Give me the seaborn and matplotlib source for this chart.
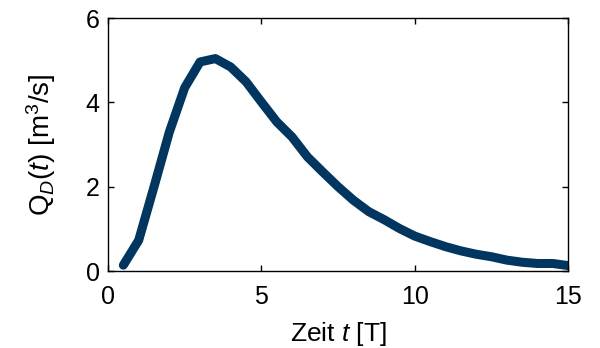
import matplotlib
matplotlib.use("Agg")
import matplotlib.pyplot as plt
import seaborn as sns
import pandas as pd

# Abfluss-Ganglinie Q_D(t)
t_vals = [0.5, 1.0, 1.5, 2.0, 2.5, 3.0, 3.5, 4.0, 4.5, 5.0,
          5.5, 6.0, 6.5, 7.0, 7.5, 8.0, 8.5, 9.0, 9.5, 10.0,
          10.5, 11.0, 11.5, 12.0, 12.5, 13.0, 13.5, 14.0, 14.5, 15.0]
q_vals = [0.14, 0.73, 2.0, 3.3, 4.35, 4.96, 5.04, 4.84, 4.49, 4.01,
          3.54, 3.18, 2.71, 2.35, 2.0, 1.68, 1.41, 1.22, 1.01, 0.83,
          0.70, 0.58, 0.48, 0.40, 0.34, 0.26, 0.21, 0.18, 0.18, 0.13]
x_ticks = [0, 5, 10, 15]
y_ticks = [0, 2, 4, 6]

sns.set_style("ticks")
plt.rcParams["font.family"] = ["Liberation Sans", "DejaVu Sans"]
plt.rcParams["mathtext.fontset"] = "custom"
plt.rcParams["mathtext.rm"] = "Liberation Sans"
plt.rcParams["mathtext.it"] = "Liberation Sans:italic"
plt.rcParams["text.color"] = "black"
plt.rcParams["axes.labelcolor"] = "black"

df = pd.DataFrame({"t": t_vals, "Q": q_vals})

fig = plt.figure(figsize=(6, 3.48), dpi=100)
ax = fig.add_axes([0.18, 0.221, 0.767, 0.727])
sns.lineplot(data=df, x="t", y="Q", ax=ax, color="#003660", linewidth=6.5)

ax.set_xlim(0, 15)
ax.set_ylim(0, 6)
ax.set_xticks(x_ticks)
ax.set_yticks(y_ticks)
ax.tick_params(direction="in", top=True, right=True, length=4, width=1,
               labelsize=18, colors="black")
ax.tick_params(axis="x", pad=10)
ax.tick_params(axis="y", pad=6)
for s in ax.spines.values():
    s.set_visible(True)
    s.set_color("black")
    s.set_linewidth(1)

ax.set_xlabel(r"Zeit $\mathit{t}$ [T]", fontsize=19, labelpad=8)
ax.set_ylabel(r"Q$_{\mathit{D}}$($\mathit{t}$) [m$^3$/s]", fontsize=20, labelpad=20)

fig.savefig("out.png", dpi=100)
